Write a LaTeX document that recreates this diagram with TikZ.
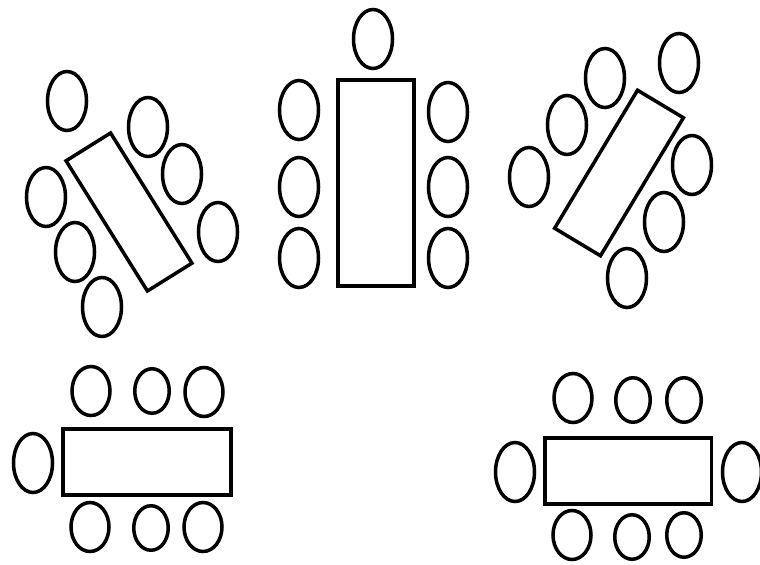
\documentclass[tikz,border=0pt]{standalone}
\usetikzlibrary{shapes.geometric}
\tikzset{
  chair/.style={ellipse,draw=black,line width=2pt,fill=white,
    minimum width=7.8mm,minimum height=11.8mm,inner sep=0pt},
  rowchair/.style={chair,minimum width=7.6mm,minimum height=9.8mm},
  midchair/.style={chair,minimum width=6.9mm,minimum height=8.9mm},
  tablebox/.style={rectangle,draw=black,line width=2pt,fill=white,inner sep=0pt},
}
\begin{document}
\begin{tikzpicture}[x=.2mm,y=-.2mm]
\useasboundingbox (0,0) rectangle (760,565);
% upper left: table turned to the left
\node[tablebox,minimum width=10.5mm,minimum height=30.7mm,rotate=32] (ta) at (129,212) {};
\foreach \n/\x/\y in {1/67/101,2/148/127,3/182/174,4/218/232,5/46/197,6/75/252,7/102/307}
  \node[chair] (ta\n) at (\x,\y) {};
% upper middle: upright table
\node[tablebox,minimum width=15.2mm,minimum height=41.2mm] (tb) at (376,183) {};
\foreach \n/\x/\y in {1/373/39,2/299/110,3/299/187,4/299/258,5/448/112,6/448/187,7/448/258}
  \node[chair] (tb\n) at (\x,\y) {};
% upper right: table turned to the right
\node[tablebox,minimum width=10.7mm,minimum height=32.2mm,rotate=-31] (tc) at (619,173) {};
\foreach \n/\x/\y in {1/605/78,2/679/63,3/567/125,4/529/177,5/692/165,6/664/222,7/627/278}
  \node[chair] (tc\n) at (\x,\y) {};
% lower left: long table, one head chair
\node[tablebox,minimum width=33.6mm,minimum height=13.2mm] (td) at (147,462) {};
\node[chair] (td0) at (33,463) {};
\foreach \n/\x/\y/\s in {1/91/391/rowchair,2/152/391/midchair,3/204/392/rowchair,
    4/90/527/rowchair,5/151/528/midchair,6/203/527/rowchair}
  \node[\s] (td\n) at (\x,\y) {};
% lower right: long table, two head chairs
\node[tablebox,minimum width=33.3mm,minimum height=13.3mm] (te) at (628,471) {};
\node[chair] (tel) at (515,472) {};\node[chair] (ter) at (742,472) {};
\foreach \n/\x/\y/\s in {1/573/398/rowchair,2/633/400/midchair,3/684/400/midchair,
    4/572/535/rowchair,5/632/537/midchair,6/684/535/midchair}
  \node[\s] (te\n) at (\x,\y) {};
\end{tikzpicture}
\end{document}
